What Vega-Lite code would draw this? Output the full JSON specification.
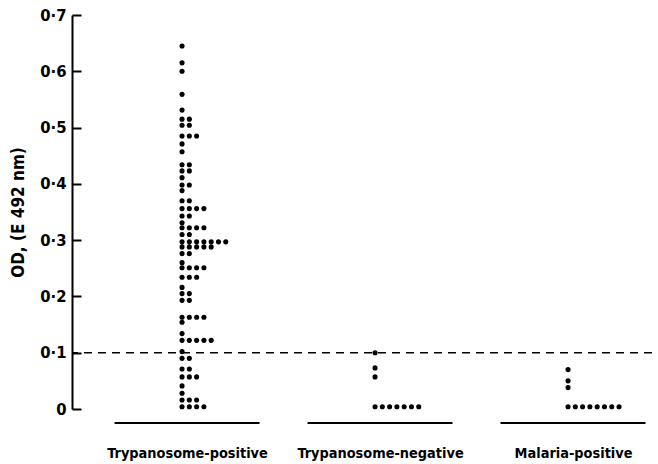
{
  "$schema": "https://vega.github.io/schema/vega-lite/v6.json",
  "width": 580,
  "height": 394,
  "autosize": {"type": "none"},
  "padding": {"left": 72, "top": 15, "right": 6, "bottom": 55},
  "background": "white",
  "config": {"view": {"stroke": null}, "font": "DejaVu Sans Condensed"},
  "resolve": {"axis": {"y": "independent"}},
  "datasets": {
    "dots": [
      {"group": "Trypanosome-positive", "od": 0.645},
      {"group": "Trypanosome-positive", "od": 0.615},
      {"group": "Trypanosome-positive", "od": 0.600},
      {"group": "Trypanosome-positive", "od": 0.559},
      {"group": "Trypanosome-positive", "od": 0.531},
      {"group": "Trypanosome-positive", "od": 0.515},
      {"group": "Trypanosome-positive", "od": 0.515},
      {"group": "Trypanosome-positive", "od": 0.504},
      {"group": "Trypanosome-positive", "od": 0.504},
      {"group": "Trypanosome-positive", "od": 0.485},
      {"group": "Trypanosome-positive", "od": 0.485},
      {"group": "Trypanosome-positive", "od": 0.485},
      {"group": "Trypanosome-positive", "od": 0.471},
      {"group": "Trypanosome-positive", "od": 0.457},
      {"group": "Trypanosome-positive", "od": 0.434},
      {"group": "Trypanosome-positive", "od": 0.434},
      {"group": "Trypanosome-positive", "od": 0.423},
      {"group": "Trypanosome-positive", "od": 0.423},
      {"group": "Trypanosome-positive", "od": 0.411},
      {"group": "Trypanosome-positive", "od": 0.398},
      {"group": "Trypanosome-positive", "od": 0.398},
      {"group": "Trypanosome-positive", "od": 0.388},
      {"group": "Trypanosome-positive", "od": 0.370},
      {"group": "Trypanosome-positive", "od": 0.370},
      {"group": "Trypanosome-positive", "od": 0.356},
      {"group": "Trypanosome-positive", "od": 0.356},
      {"group": "Trypanosome-positive", "od": 0.356},
      {"group": "Trypanosome-positive", "od": 0.356},
      {"group": "Trypanosome-positive", "od": 0.343},
      {"group": "Trypanosome-positive", "od": 0.343},
      {"group": "Trypanosome-positive", "od": 0.331},
      {"group": "Trypanosome-positive", "od": 0.322},
      {"group": "Trypanosome-positive", "od": 0.322},
      {"group": "Trypanosome-positive", "od": 0.322},
      {"group": "Trypanosome-positive", "od": 0.322},
      {"group": "Trypanosome-positive", "od": 0.310},
      {"group": "Trypanosome-positive", "od": 0.310},
      {"group": "Trypanosome-positive", "od": 0.297},
      {"group": "Trypanosome-positive", "od": 0.297},
      {"group": "Trypanosome-positive", "od": 0.297},
      {"group": "Trypanosome-positive", "od": 0.297},
      {"group": "Trypanosome-positive", "od": 0.297},
      {"group": "Trypanosome-positive", "od": 0.297},
      {"group": "Trypanosome-positive", "od": 0.297},
      {"group": "Trypanosome-positive", "od": 0.288},
      {"group": "Trypanosome-positive", "od": 0.288},
      {"group": "Trypanosome-positive", "od": 0.288},
      {"group": "Trypanosome-positive", "od": 0.288},
      {"group": "Trypanosome-positive", "od": 0.288},
      {"group": "Trypanosome-positive", "od": 0.276},
      {"group": "Trypanosome-positive", "od": 0.276},
      {"group": "Trypanosome-positive", "od": 0.260},
      {"group": "Trypanosome-positive", "od": 0.251},
      {"group": "Trypanosome-positive", "od": 0.251},
      {"group": "Trypanosome-positive", "od": 0.251},
      {"group": "Trypanosome-positive", "od": 0.251},
      {"group": "Trypanosome-positive", "od": 0.234},
      {"group": "Trypanosome-positive", "od": 0.234},
      {"group": "Trypanosome-positive", "od": 0.234},
      {"group": "Trypanosome-positive", "od": 0.216},
      {"group": "Trypanosome-positive", "od": 0.205},
      {"group": "Trypanosome-positive", "od": 0.205},
      {"group": "Trypanosome-positive", "od": 0.193},
      {"group": "Trypanosome-positive", "od": 0.193},
      {"group": "Trypanosome-positive", "od": 0.163},
      {"group": "Trypanosome-positive", "od": 0.163},
      {"group": "Trypanosome-positive", "od": 0.163},
      {"group": "Trypanosome-positive", "od": 0.163},
      {"group": "Trypanosome-positive", "od": 0.154},
      {"group": "Trypanosome-positive", "od": 0.134},
      {"group": "Trypanosome-positive", "od": 0.122},
      {"group": "Trypanosome-positive", "od": 0.122},
      {"group": "Trypanosome-positive", "od": 0.122},
      {"group": "Trypanosome-positive", "od": 0.122},
      {"group": "Trypanosome-positive", "od": 0.122},
      {"group": "Trypanosome-positive", "od": 0.102},
      {"group": "Trypanosome-positive", "od": 0.090},
      {"group": "Trypanosome-positive", "od": 0.090},
      {"group": "Trypanosome-positive", "od": 0.071},
      {"group": "Trypanosome-positive", "od": 0.071},
      {"group": "Trypanosome-positive", "od": 0.057},
      {"group": "Trypanosome-positive", "od": 0.057},
      {"group": "Trypanosome-positive", "od": 0.057},
      {"group": "Trypanosome-positive", "od": 0.041},
      {"group": "Trypanosome-positive", "od": 0.028},
      {"group": "Trypanosome-positive", "od": 0.016},
      {"group": "Trypanosome-positive", "od": 0.016},
      {"group": "Trypanosome-positive", "od": 0.016},
      {"group": "Trypanosome-positive", "od": 0.004},
      {"group": "Trypanosome-positive", "od": 0.004},
      {"group": "Trypanosome-positive", "od": 0.004},
      {"group": "Trypanosome-positive", "od": 0.004},
      {"group": "Trypanosome-negative", "od": 0.100},
      {"group": "Trypanosome-negative", "od": 0.073},
      {"group": "Trypanosome-negative", "od": 0.057},
      {"group": "Trypanosome-negative", "od": 0.004},
      {"group": "Trypanosome-negative", "od": 0.004},
      {"group": "Trypanosome-negative", "od": 0.004},
      {"group": "Trypanosome-negative", "od": 0.004},
      {"group": "Trypanosome-negative", "od": 0.004},
      {"group": "Trypanosome-negative", "od": 0.004},
      {"group": "Trypanosome-negative", "od": 0.004},
      {"group": "Malaria-positive", "od": 0.070},
      {"group": "Malaria-positive", "od": 0.050},
      {"group": "Malaria-positive", "od": 0.038},
      {"group": "Malaria-positive", "od": 0.004},
      {"group": "Malaria-positive", "od": 0.004},
      {"group": "Malaria-positive", "od": 0.004},
      {"group": "Malaria-positive", "od": 0.004},
      {"group": "Malaria-positive", "od": 0.004},
      {"group": "Malaria-positive", "od": 0.004},
      {"group": "Malaria-positive", "od": 0.004},
      {"group": "Malaria-positive", "od": 0.004}
    ],
    "groups": [
      {"group": "Trypanosome-positive"},
      {"group": "Trypanosome-negative"},
      {"group": "Malaria-positive"}
    ],
    "cutoff": [{"threshold": 0.1}]
  },
  "layer": [
    {
      "data": {"name": "cutoff"},
      "mark": {"type": "rule", "strokeDash": [8, 6], "strokeWidth": 1.6, "color": "black"},
      "encoding": {
        "y": {
          "field": "threshold",
          "type": "quantitative",
          "axis": {
            "orient": "right",
            "offset": -580,
            "values": [0, 0.1, 0.2, 0.3, 0.4, 0.5, 0.6, 0.7],
            "labels": false,
            "domain": false,
            "grid": false,
            "title": null,
            "ticks": true,
            "tickSize": 9,
            "tickWidth": 2,
            "tickColor": "black"
          }
        }
      }
    },
    {
      "data": {"name": "groups"},
      "mark": {"type": "tick", "size": 145, "thickness": 2, "color": "black", "opacity": 1},
      "encoding": {
        "x": {"field": "group", "type": "nominal"},
        "y": {"datum": -0.025, "type": "quantitative", "axis": null}
      }
    },
    {
      "data": {"name": "dots"},
      "transform": [
        {"window": [{"op": "row_number", "as": "rank"}], "groupby": ["group", "od"]}
      ],
      "mark": {"type": "circle", "size": 26, "color": "black", "opacity": 1},
      "encoding": {
        "x": {
          "field": "group",
          "type": "nominal",
          "sort": ["Trypanosome-positive", "Trypanosome-negative", "Malaria-positive"],
          "scale": {"type": "point", "domain": ["Trypanosome-positive", "Trypanosome-negative", "Malaria-positive"], "padding": 0.5026, "align": 0.593},
          "axis": {
            "title": null,
            "domain": false,
            "ticks": false,
            "labelPadding": 37,
            "labelFontSize": 14.4,
            "labelFontWeight": "bold",
            "labelColor": "black",
            "labelAngle": 0,
            "labelAlign": "center",
            "labelBaseline": "top"
          }
        },
        "xOffset": {
          "field": "rank",
          "type": "ordinal",
          "scale": {"type": "point", "domain": [1, 2, 3, 4, 5, 6, 7, 8], "range": [-5, 46], "padding": 0}
        },
        "y": {
          "field": "od",
          "type": "quantitative",
          "scale": {"domain": [0, 0.7], "nice": false, "zero": false},
          "axis": {
            "orient": "left",
            "values": [0, 0.1, 0.2, 0.3, 0.4, 0.5, 0.6, 0.7],
            "labelExpr": "datum.value == 0 ? '0' : replace(format(datum.value, '.1f'), '.', '·')",
            "title": "OD, (E 492 nm)",
            "grid": false,
            "domainColor": "black",
            "domainWidth": 2,
            "ticks": false,
            "labelPadding": 6,
            "labelFontSize": 16.5,
            "labelFontWeight": "bold",
            "labelColor": "black",
            "titleFontSize": 17,
            "titleFontWeight": "bold",
            "titleColor": "black",
            "titlePadding": 12
          }
        }
      }
    }
  ]
}
